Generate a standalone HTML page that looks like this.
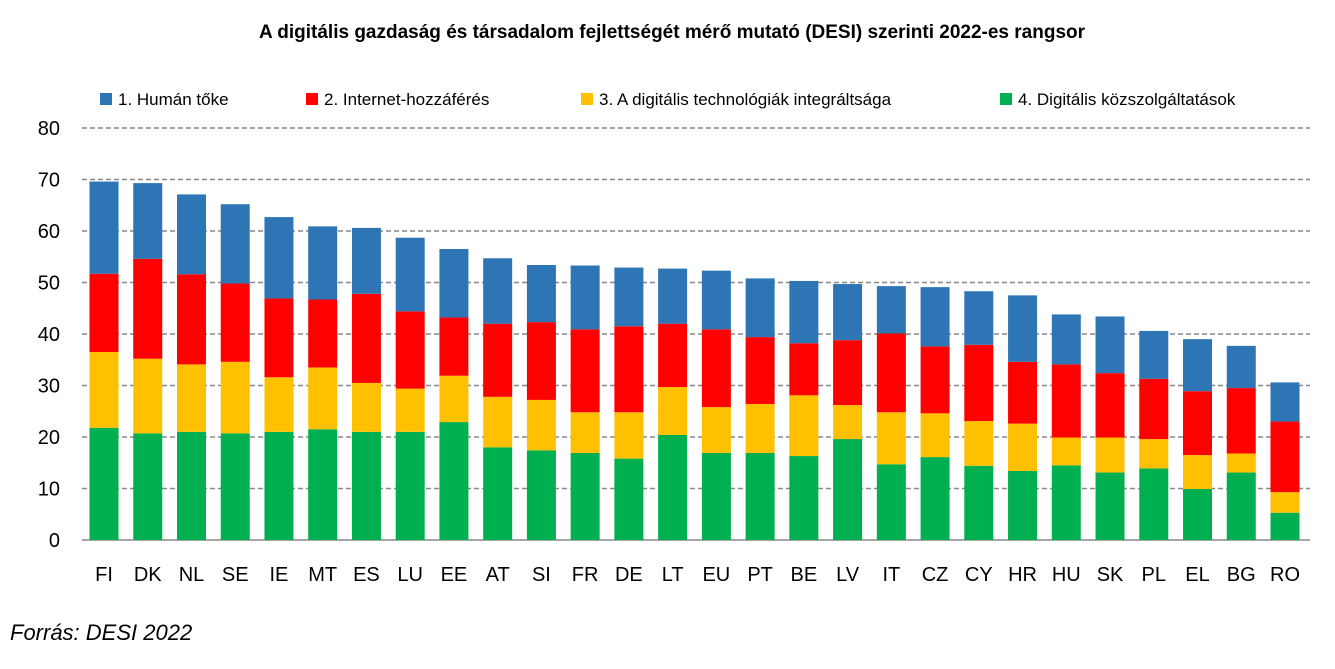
<!DOCTYPE html>
<html><head><meta charset="utf-8"><style>
body{margin:0;background:#fff;width:1335px;height:664px;overflow:hidden;font-family:"Liberation Sans",sans-serif}
</style></head><body>
<svg id="chart" width="1335" height="664" xmlns="http://www.w3.org/2000/svg" font-family="Liberation Sans, sans-serif">
<text x="672" y="38" text-anchor="middle" font-size="19" font-weight="bold" fill="#000">A digitális gazdaság és társadalom fejlettségét mérő mutató (DESI) szerinti 2022-es rangsor</text>
<g font-size="17" fill="#000">
<g><rect x="100" y="93" width="12" height="12" fill="#2E75B6"/><text x="118" y="105">1. Humán tőke</text></g>
<g><rect x="306" y="93" width="12" height="12" fill="#FF0000"/><text x="324" y="105">2. Internet-hozzáférés</text></g>
<g><rect x="581" y="93" width="12" height="12" fill="#FFC000"/><text x="599" y="105">3. A digitális technológiák integráltsága</text></g>
<g><rect x="1000" y="93" width="12" height="12" fill="#00B050"/><text x="1018" y="105">4. Digitális közszolgáltatások</text></g>
</g>
<g id="grid"></g><g id="bars"></g><g id="axes"></g>
<text x="10" y="640" font-size="22" font-style="italic" fill="#000">Forrás: DESI 2022</text>
</svg>
<script>
const categories=["FI","DK","NL","SE","IE","MT","ES","LU","EE","AT","SI","FR","DE","LT","EU","PT","BE","LV","IT","CZ","CY","HR","HU","SK","PL","EL","BG","RO"];
const publicServices=[21.8,20.7,21.0,20.7,21.0,21.5,21.0,21.0,22.9,18.0,17.4,16.9,15.8,20.4,16.9,16.9,16.3,19.6,14.7,16.1,14.4,13.4,14.5,13.1,13.9,9.9,13.1,5.3];
const techIntegration=[14.7,14.5,13.1,13.9,10.6,12.0,9.5,8.4,9.0,9.8,9.8,7.9,9.0,9.3,8.9,9.5,11.8,6.6,10.1,8.5,8.7,9.2,5.4,6.8,5.7,6.6,3.7,4.0];
const internetAccess=[15.2,19.4,17.5,15.2,15.3,13.2,17.3,15.0,11.3,14.2,15.1,16.1,16.7,12.3,15.1,13.0,10.1,12.6,15.3,13.0,14.8,12.0,14.2,12.5,11.7,12.4,12.7,13.7];
const humanCapital=[17.9,14.7,15.5,15.4,15.8,14.2,12.8,14.3,13.3,12.7,11.1,12.4,11.4,10.7,11.4,11.4,12.1,10.9,9.2,11.5,10.4,12.9,9.7,11.0,9.3,10.1,8.2,7.6];
const yTicks=[0,10,20,30,40,50,60,70,80];
const NS="http://www.w3.org/2000/svg";
const y0=540,yTop=128,yMax=80,left=82,right=1310,x0=104,step=(1285-104)/27,bw=29;
const yS=v=>y0-(v/yMax)*(y0-yTop);
const xS=i=>x0+i*step;
function mk(t,a,p){const e=document.createElementNS(NS,t);for(const k in a)e.setAttribute(k,a[k]);p.appendChild(e);return e;}
const grid=document.getElementById('grid'),axes=document.getElementById('axes'),bars=document.getElementById('bars');
yTicks.forEach(v=>{
 const l=mk('line',{x1:left,x2:right,y1:yS(v),y2:yS(v),stroke:v===0?'#888':'#888','stroke-width':1.5,'stroke-dasharray':v===0?'':'5,3'},grid);
 
 
 const t=mk('text',{x:60,y:yS(v)+7,'text-anchor':'end','font-size':20,fill:'#000'},axes);
 t.textContent=v;
 
 
});
const series=[[publicServices,'#00B050','public'],[techIntegration,'#FFC000','tech'],[internetAccess,'#FF0000','internet'],[humanCapital,'#2E75B6','human']];
categories.forEach((c,i)=>{
 let acc=0;
 series.forEach(([arr,col,nm])=>{
  const a=acc,b=acc+arr[i];acc=b;
  const r=mk('rect',{x:xS(i)-bw/2,y:yS(b),width:bw,height:yS(a)-yS(b),fill:col},bars);
  
  
 });
 const t=mk('text',{x:xS(i),y:581,'text-anchor':'middle','font-size':20,fill:'#000'},axes);
 t.textContent=c;
 
 
});
</script>
</body></html>
